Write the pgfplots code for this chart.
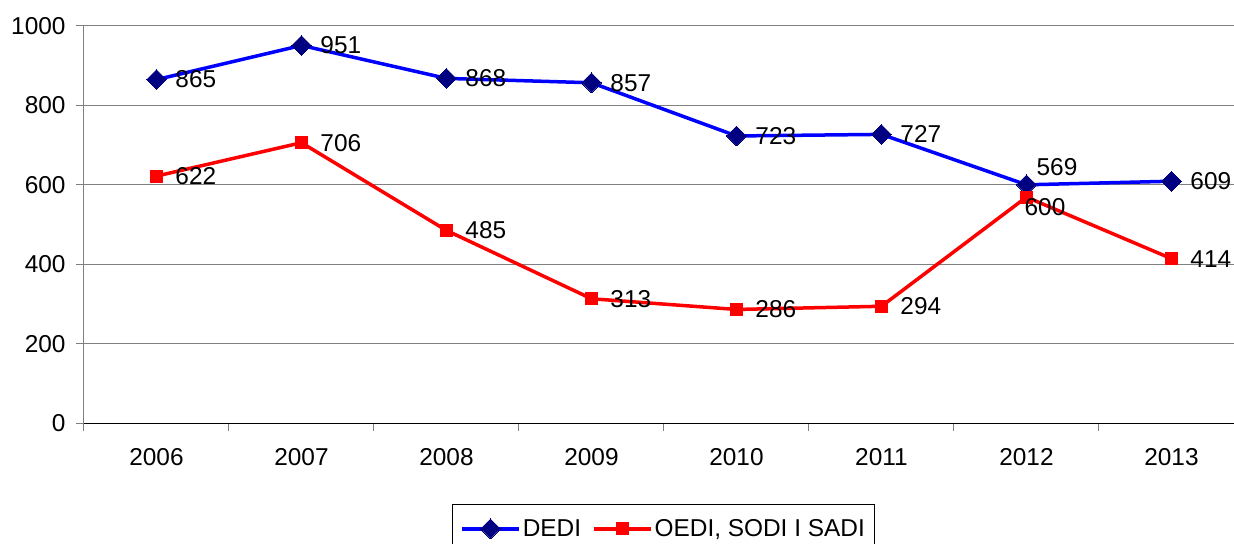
\documentclass[border=0pt]{standalone}
\usepackage{pgfplots}
\pgfplotsset{compat=1.18}
\usepackage{fontspec}
\setmainfont{Liberation Sans}
\definecolor{lineblue}{RGB}{0,0,255}
\definecolor{navyd}{RGB}{0,0,128}
\definecolor{linered}{RGB}{255,0,0}
\definecolor{gridgray}{RGB}{128,128,128}
\newcommand{\cf}{\fontsize{24.5}{29}\selectfont}
\begin{document}
\begin{tikzpicture}
\path[use as bounding box] (-84bp,-121bp) rectangle (1150bp,423bp);
\begin{axis}[
  at={(0,0)}, anchor=south west,
  scale only axis, width=1150bp, height=397bp,
  xmin=-0.5, xmax=7.431, ymin=0, ymax=1000,
  axis x line*=bottom, axis y line*=left,
  x axis line style={black, line width=1bp},
  y axis line style={gridgray, line width=1bp},
  xtick={0,...,7},
  xticklabels={2006,2007,2008,2009,2010,2011,2012,2013},
  minor xtick={-0.5,0.5,1.5,2.5,3.5,4.5,5.5,6.5,7.5},
  ytick={0,200,...,1000},
  tick align=outside,
  major tick length=8bp, minor tick length=8bp,
  major x tick style={draw=none},
  minor x tick style={gridgray, line width=1bp},
  major y tick style={gridgray, line width=1bp},
  ymajorgrids, grid style={gridgray, line width=1bp},
  /pgf/number format/assume math mode=true,
  /pgf/number format/1000 sep={},
  tick label style={font=\cf},
  xticklabel style={yshift=-14bp},
  yticklabel style={xshift=-7bp},
  legend style={at={(0.504,0)}, anchor=north, yshift=-81bp,
    draw=black, line width=1bp, legend columns=-1, font=\cf,
    inner xsep=8bp, inner ysep=13bp,
    /tikz/every even column/.append style={column sep=9bp}},
  legend image code/.code={%
    \draw[#1] (0bp,0bp) -- (57bp,0bp);
    \draw[#1, mark repeat=2, mark phase=2] plot coordinates {(0bp,0bp) (28.5bp,0bp) (57bp,0bp)};},
  nodes near coords,
  point meta=explicit symbolic,
  every node near coord/.append style={anchor=west, xshift=19bp, inner sep=0pt, font=\cf, text=black},
]
\addplot[lineblue, line width=3.5bp, mark=square*, mark size=7bp,
  mark options={fill=navyd, draw=navyd, rotate=45, line width=0pt}]
  coordinates {(0,865)[865] (1,951)[951] (2,868)[868] (3,857)[857]
               (4,723)[723] (5,727)[727] (6,600)[] (7,609)[609]};
\addlegendentry{DEDI}
\addplot[linered, line width=3.5bp, mark=square*, mark size=6bp,
  mark options={fill=linered, draw=linered, line width=0pt}]
  coordinates {(0,622)[622] (1,706)[706] (2,485)[485] (3,313)[313]
               (4,286)[286] (5,294)[294] (6,569)[] (7,414)[414]};
\addlegendentry{OEDI, SODI I SADI}
\addplot[draw=none, mark=none, forget plot,
  every node near coord/.append style={xshift=-9bp, yshift=18bp}]
  coordinates {(6,600)[569]};
\addplot[draw=none, mark=none, forget plot,
  every node near coord/.append style={xshift=-21bp, yshift=-10bp}]
  coordinates {(6,569)[600]};
\end{axis}
\end{tikzpicture}
\end{document}
